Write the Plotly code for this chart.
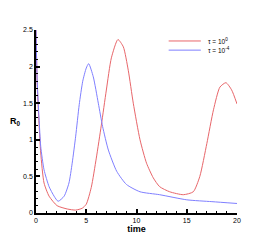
import plotly.graph_objects as go

# tau = 10^0 (red)
t_red = [0.0, 0.12, 0.3, 0.47, 0.8, 1.3, 2.1, 3.1, 3.95, 4.6, 5.0, 5.5, 6.0, 6.5, 7.0, 7.5,
         8.15, 8.69, 9.18, 9.68, 10.35, 11.0, 11.67, 12.3, 13.3, 14.66, 15.65, 16.3, 17.0, 17.66,
         18.3, 18.9, 19.47, 20.0]
r_red = [2.5, 1.75, 1.22, 0.82, 0.41, 0.23, 0.10, 0.055, 0.04, 0.065, 0.12, 0.35, 0.75, 1.2, 1.68, 2.12,
         2.37, 2.27, 1.95, 1.5, 1.0, 0.68, 0.48, 0.36, 0.29, 0.25, 0.29, 0.50, 0.95, 1.41,
         1.72, 1.78, 1.68, 1.49]

# tau = 10^-4 (blue)
t_blue = [0.0, 0.12, 0.3, 0.47, 0.8, 1.3, 1.8, 2.2, 2.8, 3.28, 3.6, 3.95, 4.3, 4.65, 5.0, 5.24, 5.7,
          6.2, 6.63, 7.2, 8.03, 9.0, 10.35, 12.3, 15.0, 17.5, 20.0]
r_blue = [2.5, 1.8, 1.3, 0.91, 0.59, 0.36, 0.23, 0.16, 0.23, 0.41, 0.68, 1.05, 1.48, 1.8, 1.98, 2.04, 1.86,
          1.5, 1.18, 0.86, 0.57, 0.39, 0.29, 0.25, 0.18, 0.155, 0.13]

x_ticks = [0, 5, 10, 15, 20]
y_ticks = [0, 0.5, 1, 1.5, 2, 2.5]
legend_labels = ["τ = 10<sup>0</sup>", "τ = 10<sup>-4</sup>"]
red = "#e8666a"
blue = "#7f7fff"

fig = go.Figure()
fig.add_trace(go.Scatter(x=t_red, y=r_red, mode="lines", line=dict(color=red, width=1, shape="spline", smoothing=0.6)))
fig.add_trace(go.Scatter(x=t_blue, y=r_blue, mode="lines", line=dict(color=blue, width=1, shape="spline", smoothing=0.6)))

font = "Liberation Sans, Arial, sans-serif"
axis_common = dict(
    showgrid=False, zeroline=False, showline=True, linecolor="black", linewidth=1.5,
    ticks="inside", ticklen=4, tickwidth=1.5, tickcolor="black", automargin=False,
    tickfont=dict(family=font, size=7, color="black"), mirror=False,
)
fig.update_xaxes(range=[0, 20], tickvals=x_ticks, ticktext=[str(v) for v in x_ticks],
                 minor=dict(ticks="inside", ticklen=2, tickwidth=1, tickcolor="black", dtick=1),
                 title=dict(text="<b>time</b>", font=dict(family=font, size=9, color="black"), standoff=2),
                 **axis_common)
fig.update_yaxes(range=[0, 2.5], tickvals=y_ticks, ticktext=["0", "0.5", "1", "1.5", "2", "2.5"],
                 minor=dict(ticks="inside", ticklen=2, tickwidth=1, tickcolor="black", dtick=0.1),
                 **axis_common)

# y-axis title (horizontal)
fig.add_annotation(xref="paper", yref="paper", x=-0.065, y=0.5, xanchor="right", yanchor="middle",
                   text="<b>R<sub>0</sub></b>", showarrow=False, font=dict(family=font, size=9, color="black"))

# legend drawn manually
for i, (lab, col) in enumerate(zip(legend_labels, [red, blue])):
    yy = 0.94 - i * 0.05
    fig.add_shape(type="line", xref="paper", yref="paper", x0=0.66, x1=0.82, y0=yy, y1=yy,
                  line=dict(color=col, width=1))
    fig.add_annotation(xref="paper", yref="paper", x=0.845, y=yy, xanchor="left", yanchor="middle",
                       text=lab, showarrow=False, font=dict(family=font, size=6.5, color="black"))

# page body has an 8px default margin; size the figure to compensate
fig.update_layout(
    width=262, height=233, showlegend=False,
    margin=dict(l=28, r=33, t=22, b=28),
    plot_bgcolor="white", paper_bgcolor="white",
)
fig.write_html("out.html")
